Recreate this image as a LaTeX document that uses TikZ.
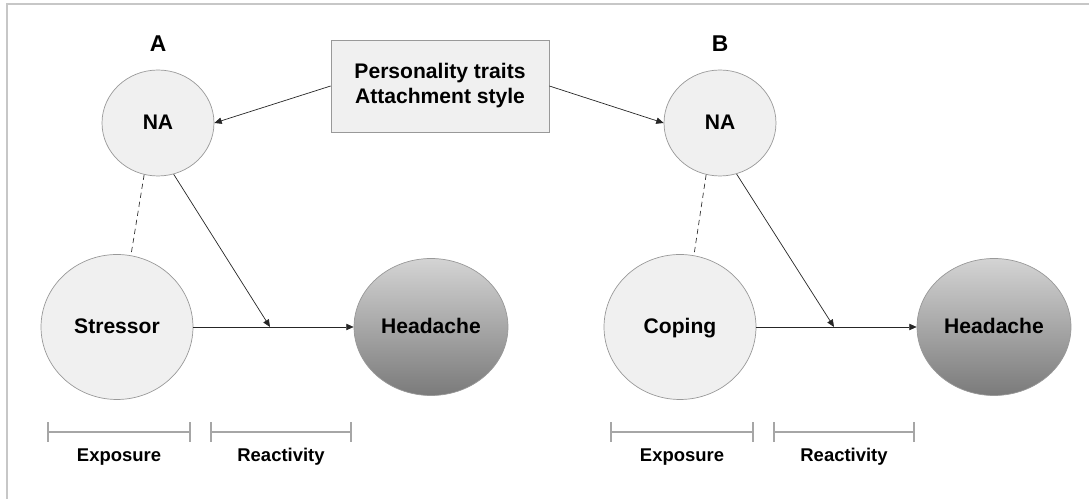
\documentclass[tikz,border=0pt]{standalone}
\usepackage{fontspec}
\setmainfont{Liberation Sans}
\usetikzlibrary{arrows.meta,shapes.geometric,positioning}

\tikzset{
  var/.style={ellipse,draw=black!40,fill=black!6,inner sep=0pt,text height=0.72em,text depth=0pt,
              font=\bfseries\fontsize{12}{14}\selectfont},
  smallvar/.style={var,minimum width=2.24cm,minimum height=2.12cm},
  bigvar/.style={var,minimum width=3.04cm,minimum height=2.9cm},
  outcome/.style={var,top color=black!17,bottom color=black!52,minimum width=3.08cm,minimum height=2.74cm},
  link/.style={-{Triangle[length=4.2pt,width=3.6pt]},black!85},
  assoc/.style={black!80,dash pattern=on 3pt off 2.2pt},
  span/.style={black!35,line width=1pt,{Bar[width=11pt]}-{Bar[width=11pt]}},
  spanlabel/.style={inner sep=0pt,font=\bfseries\fontsize{10.5}{12}\selectfont},
  panel/.style={inner sep=0pt,font=\bfseries\fontsize{13}{15}\selectfont}
}

\begin{document}
\begin{tikzpicture}[x=0.02cm,y=-0.02cm]
  \useasboundingbox (0,0) rectangle (1089,499);
  \draw[black!22,line width=1pt] (7,499) -- (7,4) -- (1089,4);

  \node[draw=black!40,fill=black!6,minimum width=4.36cm,minimum height=1.84cm,align=center,
        font=\bfseries\fontsize{12}{14.2}\selectfont] (traits) at (440,86) {Personality traits\\Attachment style};

  % panel A
  \node[smallvar] (naA) at (158,123) {NA};
  \node[panel,above=0.36cm of naA] (lblA) {A};
  \node[bigvar] (stressor) at (117,327) {Stressor};
  \node[outcome] (headA) at (431,327) {Headache};
  \coordinate (modA) at (270,327);
  \draw[link] (traits.west) -- (naA.east);
  \draw[assoc] (naA.255) -- (stressor.79);
  \draw[link] (stressor.east) -- (headA.west);
  \draw[link] (naA.287) -- (modA);
  \coordinate (expA) at (119,432);
  \coordinate (reaA) at (281,432);
  \draw[span] (47,432) -- (191,432);
  \draw[span] (210,432) -- (352,432);
  \node[spanlabel,below=0.32cm of expA] (lblexpA) {Exposure};
  \node[spanlabel,below=0.32cm of reaA] (lblreaA) {Reactivity};

  % panel B
  \node[smallvar] (naB) at (720,123) {NA};
  \node[panel,above=0.36cm of naB] (lblB) {B};
  \node[bigvar] (coping) at (680,327) {Coping};
  \node[outcome] (headB) at (994,327) {Headache};
  \coordinate (modB) at (834,327);
  \draw[link] (traits.east) -- (naB.west);
  \draw[assoc] (naB.255) -- (coping.79);
  \draw[link] (coping.east) -- (headB.west);
  \draw[link] (naB.288) -- (modB);
  \coordinate (expB) at (682,432);
  \coordinate (reaB) at (844,432);
  \draw[span] (610,432) -- (754,432);
  \draw[span] (773,432) -- (915,432);
  \node[spanlabel,below=0.32cm of expB] (lblexpB) {Exposure};
  \node[spanlabel,below=0.32cm of reaB] (lblreaB) {Reactivity};
\end{tikzpicture}
\end{document}
